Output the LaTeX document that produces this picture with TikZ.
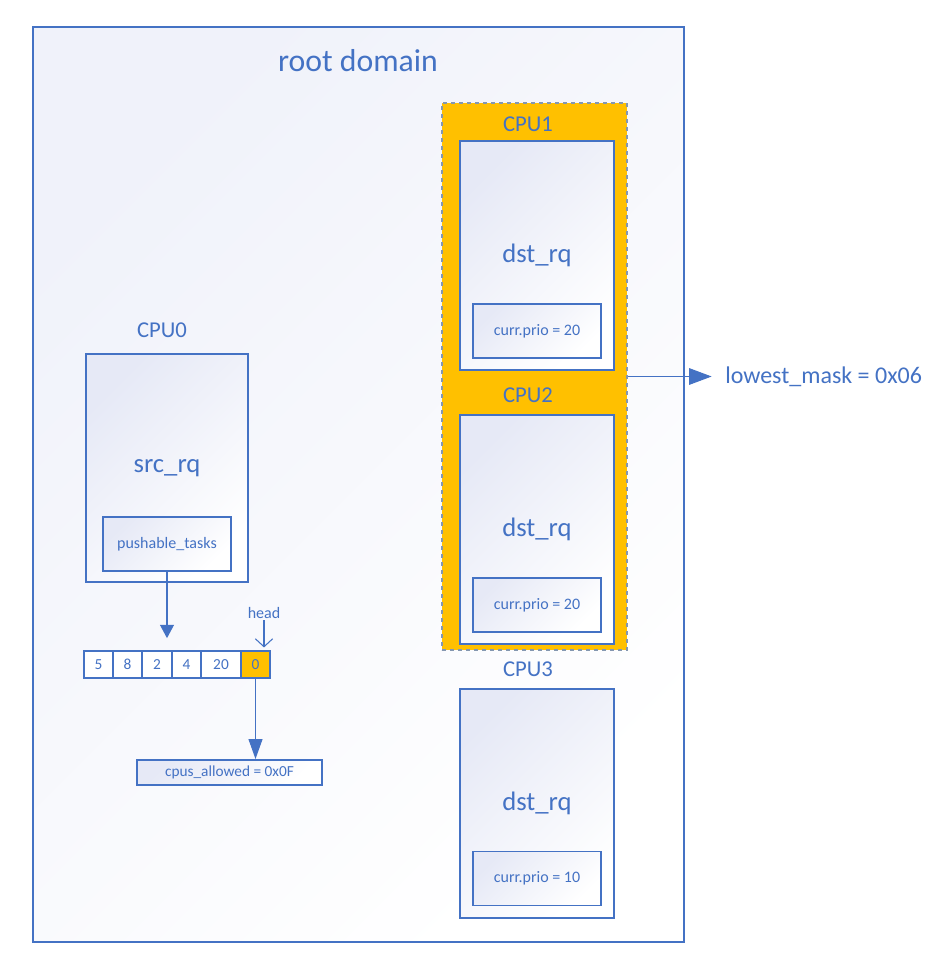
\documentclass[tikz,border=0pt]{standalone}
\usepackage{fontspec}
\setmainfont{Carlito}
\usepackage{xcolor}
\usepackage{tikz}
\usetikzlibrary{arrows.meta,positioning}

\definecolor{mainblue}{RGB}{68,114,196}
\definecolor{gradc}{RGB}{230,233,246}
\definecolor{rootgrad}{RGB}{240,242,250}
\definecolor{cpuorange}{RGB}{255,192,0}
\definecolor{dashgray}{RGB}{132,151,176}

\tikzset{
  shadebox/.style={draw=mainblue, line width=1.5pt, top color=gradc, bottom color=white,
    shading angle=45, inner sep=0pt, text=mainblue},
  rqbox/.style={shadebox, minimum width=115.5pt, minimum height=171.75pt,
    font=\fontsize{20}{24}\selectfont},
  prio/.style={shadebox, line width=1.2pt, minimum width=96pt, minimum height=40.5pt,
    font=\fontsize{12}{14}\selectfont},
  cpulabel/.style={text=mainblue, font=\fontsize{17}{20}\selectfont},
  cell/.style={draw=mainblue, line width=1.3pt, minimum height=20.25pt, inner sep=0pt,
    text=mainblue, font=\fontsize{11.5}{13}\selectfont},
  arrow/.style={draw=mainblue, line width=0.8pt, -{Triangle[length=10pt,width=10.5pt]}},
}

\begin{document}
\begin{tikzpicture}[x=0.75pt,y=-0.75pt]
  \useasboundingbox (0,0) rectangle (932,954);
  \fill[white] (0,0) rectangle (932,954);

  % root domain
  \node[draw=mainblue, line width=1.2pt, top color=rootgrad, bottom color=white, shading angle=45,
    minimum width=488.25pt, minimum height=686.25pt] (root) at (358.5,484.5) {};
  \node[text=mainblue, font=\fontsize{23.8}{28}\selectfont] (rootlabel) at (358,61) {root domain};

  % CPU1 + CPU2 selected
  \node[fill=cpuorange, draw=dashgray, dashed, line width=0.8pt,
    minimum width=138.75pt, minimum height=410.25pt] (group) at (534.5,376.5) {};

  \node[cpulabel] (cpuone) at (528,124) {CPU1};
  \node[rqbox] (dstone) at (537,255.5) {dst\_rq};
  \node[prio] (prioone) at (537,331) {curr.prio = 20};

  \node[cpulabel] (cputwo) at (528,395) {CPU2};
  \node[rqbox] (dsttwo) at (537,529) {dst\_rq};
  \node[prio] (priotwo) at (537,605) {curr.prio = 20};

  \node[cpulabel] (cputhree) at (528,669) {CPU3};
  \node[rqbox] (dstthree) at (537,803) {dst\_rq};
  \node[prio] (priothree) at (537,878.5) {curr.prio = 10};

  \node[anchor=west, inner sep=0pt, text=mainblue, font=\fontsize{18}{22}\selectfont]
    (lowest) at (725,376.5) {lowest\_mask = 0x06};
  \draw[arrow, -{Triangle[length=17pt,width=12.5pt]}, shorten >=10pt] (group.east) -- (lowest.west);

  % CPU0
  \node[cpulabel] (cpuzero) at (162,330) {CPU0};
  \node[rqbox, minimum width=121.5pt, minimum height=171pt] (src) at (167,468) {src\_rq};
  \node[prio] (pushable) at (167,544) {pushable\_tasks};

  % pushable tasks array
  \foreach \i/\cx/\w/\v/\c in {1/98.5/29/5/white, 2/127.5/29/8/white, 3/157/30/2/white,
      4/186.5/29/4/white, 5/221/40/20/white, 6/255.5/29/0/cpuorange}
    \node[cell, fill=\c, minimum width=\w*0.75pt] (cell\i) at (\cx,664.5) {\v};

  \draw[arrow, shorten >=9pt] (pushable.south) -- (pushable.south |- cell1.north);

  \node[text=mainblue, font=\fontsize{12}{14}\selectfont, inner sep=1pt] (head) at (264,613) {head};
  \draw[draw=mainblue, line width=0.8pt, -{Straight Barb[length=6pt,width=13pt]}, shorten >=2pt]
    (head.south) -- (head.south |- cell6.north);

  \node[shadebox, minimum width=138.75pt, minimum height=18.75pt,
    font=\fontsize{11.5}{13}\selectfont] (cpus) at (229.5,772.5) {cpus\_allowed = 0x0F};
  \draw[arrow, -{Triangle[length=15pt,width=10.5pt]}] (cell6.south) -- (cell6.south |- cpus.north);
\end{tikzpicture}
\end{document}
